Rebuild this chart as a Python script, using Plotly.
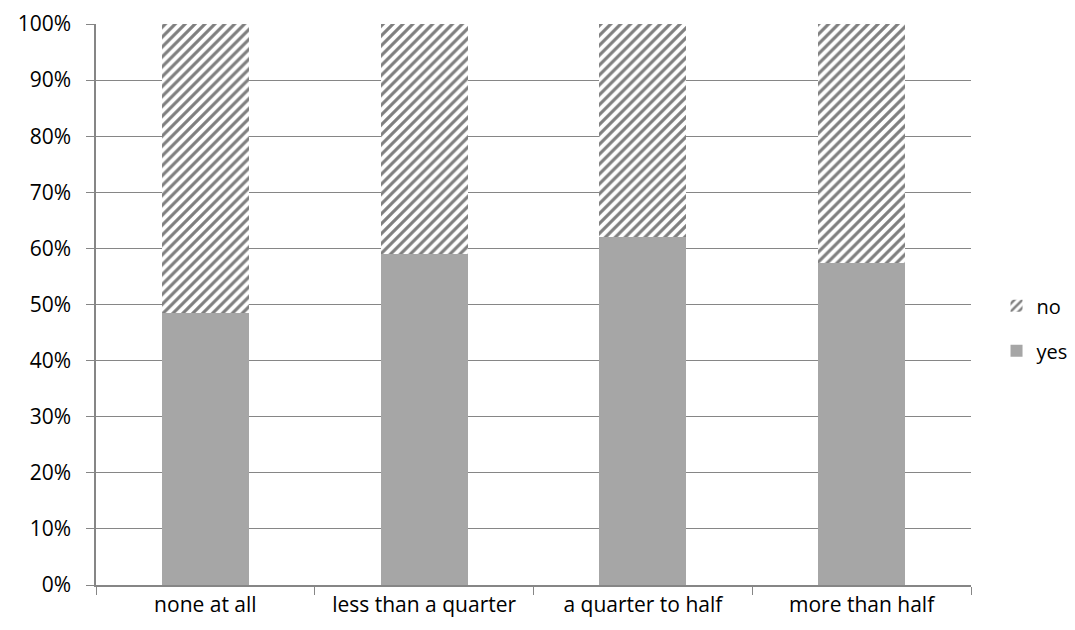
import plotly.graph_objects as go

categories = ["none at all", "less than a quarter", "a quarter to half", "more than half"]
yes_share = [48.5, 59.0, 62.0, 57.4]
no_share = [100 - v for v in yes_share]
tick_vals = list(range(0, 101, 10))
tick_text = [f"{v}%" for v in tick_vals]

font_family = "Open Sans, Liberation Sans, Arial, sans-serif"
axis_grey = "#868686"

fig = go.Figure()
fig.add_trace(go.Bar(
    name="yes", x=categories, y=yes_share, legendgroup="yes", legendrank=2,
    marker=dict(color="#a6a6a6", line=dict(width=0)),
))
fig.add_trace(go.Bar(
    name="no", x=categories, y=no_share, legendgroup="no", legendrank=1,
    marker=dict(
        color="white",
        line=dict(width=0),
        pattern=dict(shape="/", fgcolor="black", bgcolor="white", size=7, solidity=0.45),
    ),
))

fig.update_layout(
    barmode="stack",
    bargap=0.602,
    width=1075, height=630,
    margin=dict(l=96, r=104, t=24, b=45, autoexpand=False),
    plot_bgcolor="white", paper_bgcolor="white",
    font=dict(family=font_family, size=21, color="black"),
    legend=dict(
        xref="container", yref="container",
        x=0.927, y=0.479, xanchor="left", yanchor="middle",
        traceorder="grouped", font=dict(size=20),
        itemwidth=30, tracegroupgap=16,
        bgcolor="rgba(0,0,0,0)",
    ),
    xaxis=dict(
        showline=True, linecolor=axis_grey, linewidth=1.5,
        ticks="outside", tickson="boundaries", ticklen=8, tickcolor=axis_grey,
        showgrid=False,
    ),
    yaxis=dict(
        range=[0, 100], tickvals=tick_vals, ticktext=tick_text,
        showline=True, linecolor=axis_grey, linewidth=1.5,
        ticks="outside", ticklen=8, tickcolor=axis_grey,
        showgrid=True, gridcolor=axis_grey, gridwidth=1.2,
        zeroline=False, ticklabelstandoff=11,
    ),
)

fig.write_html("out.html")
